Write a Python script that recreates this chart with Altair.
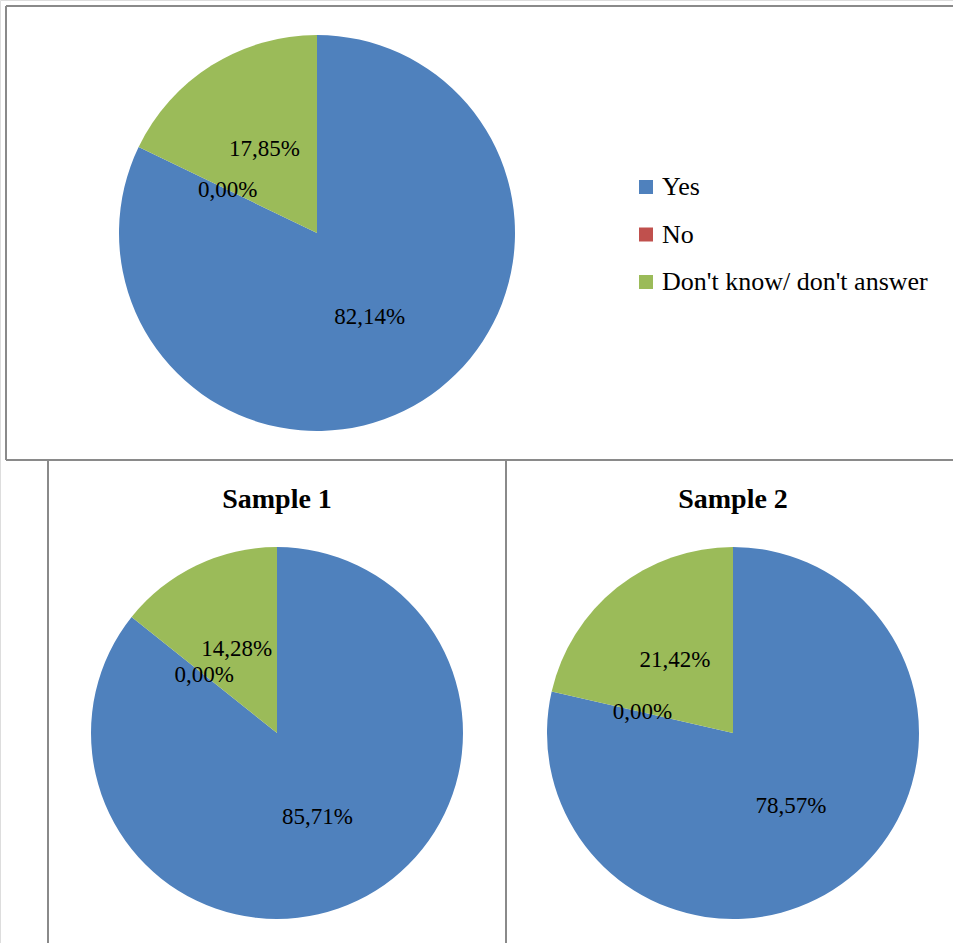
import altair as alt
import pandas as pd

# Survey answers (percent) for the whole group and the two samples
answers = ["Yes", "No", "Don't know/ don't answer"]
total_pct = [82.14, 0.00, 17.85]
sample1_pct = [85.71, 0.00, 14.28]
sample2_pct = [78.57, 0.00, 21.42]
panel_titles = ["Sample 1", "Sample 2"]

colors = ["#4F81BD", "#C0504D", "#9BBB59"]
FONT = "Times New Roman, Liberation Serif, serif"


def table(values):
    return pd.DataFrame({
        "answer": answers,
        "value": values,
        "order": list(range(len(answers))),
        "label": [f"{v:.2f}".replace(".", ",") + "%" for v in values],
    })


def pie(values, cx, cy, r, show_legend=False):
    df = table(values)
    legend = alt.Legend(
        title=None, orient="none", legendX=633, legendY=174,
        symbolType="square", symbolSize=196, symbolStrokeWidth=0,
        labelFont=FONT, labelFontSize=26, labelColor="#000000",
        labelOffset=3, rowPadding=21.5, labelLimit=400, padding=0,
    ) if show_legend else None
    base = alt.Chart(df).encode(
        theta=alt.Theta("value:Q", stack="normalize"),
        order=alt.Order("order:Q"),
    )
    arc = base.mark_arc(outerRadius=r).encode(
        color=alt.Color("answer:N",
                        scale=alt.Scale(domain=answers, range=colors),
                        sort=answers, legend=legend),
        x=alt.value(cx), y=alt.value(cy),
    )
    txt = base.mark_text(font=FONT, fontSize=23, color="#000000", radius=r * 0.5).encode(
        text="label:N",
        x=alt.value(cx), y=alt.value(cy),
    )
    return arc + txt


def rule(x1, y1, x2, y2):
    return alt.Chart(pd.DataFrame({"k": [0]})).mark_rule(
        color="#8A8A8A", strokeWidth=2
    ).encode(x=alt.value(x1), y=alt.value(y1), x2=alt.value(x2), y2=alt.value(y2))


titles_df = pd.DataFrame({"title": panel_titles, "px": [277, 733]})
titles = alt.Chart(titles_df).mark_text(
    font=FONT, fontSize=28, fontWeight="bold", color="#000000", baseline="middle"
).encode(text="title:N", x=alt.X("px:Q", scale=None), y=alt.value(500))

frames = [
    rule(6, 6, 953, 6),
    rule(6, 6, 6, 460),
    rule(6, 460, 953, 460),
    rule(48, 460, 48, 943),
    rule(506, 460, 506, 943),
]

chart = alt.layer(
    *frames,
    pie(total_pct, 317, 233, 198, show_legend=True),
    pie(sample1_pct, 277, 733, 186),
    pie(sample2_pct, 733, 733, 186),
    titles,
).resolve_scale(theta="independent").properties(
    width=953, height=943, padding=0, autosize=alt.AutoSizeParams(type="none"),
    background="#FFFFFF",
).configure_view(stroke=None).configure(font=FONT)

chart.save("out.html", embed_options={"renderer": "svg", "actions": False})
